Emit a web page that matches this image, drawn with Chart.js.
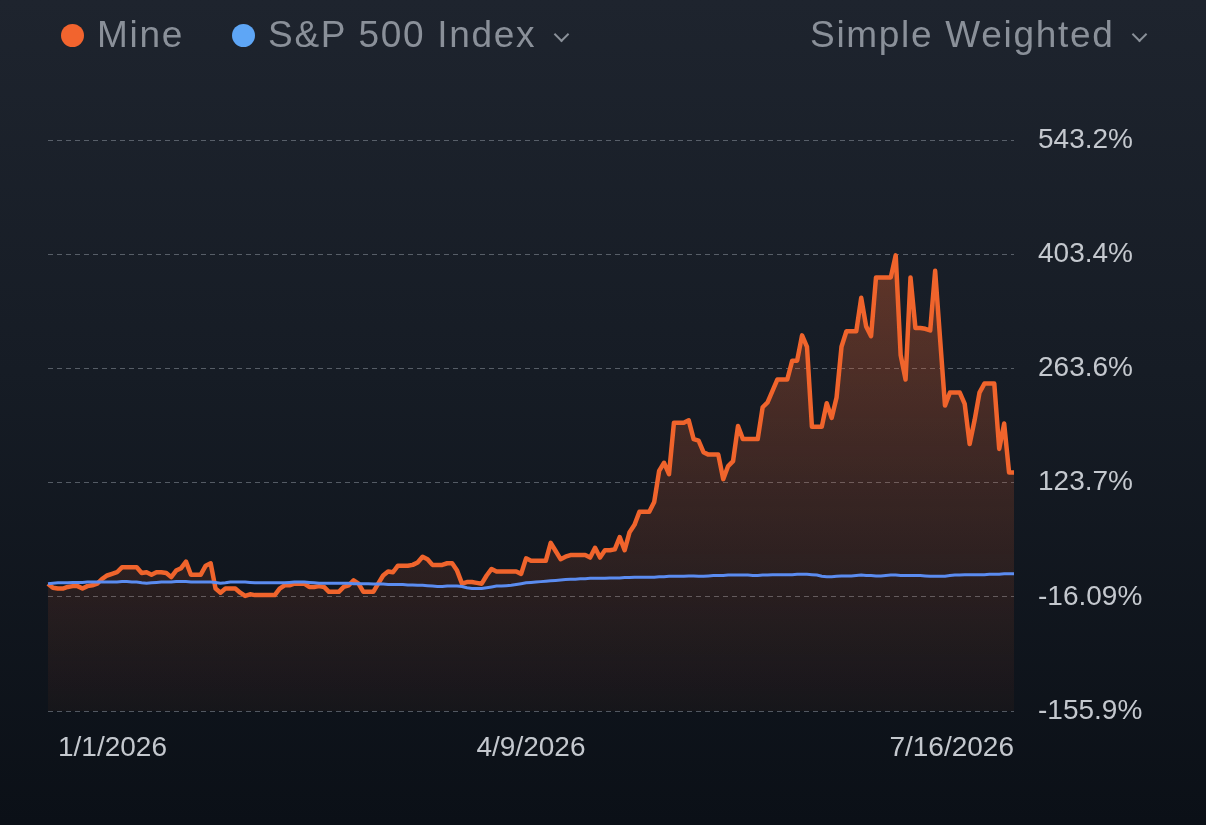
<!DOCTYPE html>
<html>
<head>
<meta charset="utf-8">
<script src="https://cdn.jsdelivr.net/npm/chart.js@4.4.1/dist/chart.umd.min.js"></script>
<style>
    html, body {
        margin: 0;
        padding: 0;
        width: 1206px;
        height: 825px;
        overflow: hidden;
        background: linear-gradient(to bottom, #1e242e 0%, #161c25 45%, #0b1017 100%);
        font-family: 'Liberation Sans', Arial, sans-serif;
    }
    #wrap { position: relative; width: 1206px; height: 825px; }
    canvas { position: absolute; left: 0; top: 0; }
    .head {
        position: absolute;
        top: 14px;
        height: 42px;
        line-height: 42px;
        font-size: 37px;
        letter-spacing: 1.7px;
        color: #8a9099;
        white-space: nowrap;
    }
    .dot {
        position: absolute;
        top: 24px;
        width: 23px;
        height: 23px;
        border-radius: 50%;
    }
    .chev {
        position: absolute;
        top: 29px;
        width: 9px;
        height: 9px;
        border-right: 2.5px solid #8a9099;
        border-bottom: 2.5px solid #8a9099;
        transform: rotate(45deg);
    }
</style>
</head>
<body>
<div id="wrap">
    <canvas id="perfChart" width="1206" height="825"></canvas>

    <span class="dot" style="left:61px; background:#f2642e;"></span>
    <span class="head" style="left:97px;">Mine</span>
    <span class="dot" style="left:232px; background:#5ea6f6;"></span>
    <span class="head" style="left:268px;">S&amp;P 500 Index</span>
    <span class="chev" style="left:556px;"></span>
    <span class="head" style="left:810px;">Simple Weighted</span>
    <span class="chev" style="left:1134px;"></span>
</div>

<script>
/* Data */
const startDate = new Date(2026, 0, 1)
const dayCount = 197

const xTickIndex = [0, 98, 196]
const xTickLabels = ['1/1/2026', '4/9/2026', '7/16/2026']

const yTicks = [-155.9, -16.09, 123.7, 263.6, 403.4, 543.2]
const yTickLabels = ['-155.9%', '-16.09%', '123.7%', '263.6%', '403.4%', '543.2%']

// Mine, % return
const mineValues = [
    0, -5, -6, -6, -4, -3, -3, -6, -3, -2,
    0, 6, 10, 12, 14, 20, 20, 20, 20, 13,
    14, 11, 14, 14, 13, 8, 16, 19, 27, 11,
    11, 11, 22, 25, -6, -11, -6, -6, -6, -11,
    -15, -13, -14, -14, -14, -14, -14, -6, -2, -2,
    0, 0, 0, -4, -4, -3, -4, -10, -10, -10,
    -4, -2, 4, 0, -10, -10, -10, 0, 10, 15,
    14, 22, 22, 22, 23, 26, 33, 30, 23, 23,
    23, 25, 25, 16, 0, 2, 2, 1, 0, 10,
    18, 15, 15, 15, 15, 15, 12, 31, 28, 28,
    28, 28, 50, 40, 30, 33, 35, 35, 35, 35,
    32, 44, 32, 41, 41, 42, 57, 41, 63, 72,
    88, 88, 88, 100, 138, 148, 134, 197, 197, 197,
    200, 177, 175, 161, 158, 158, 158, 128, 144, 150,
    193, 177, 177, 177, 177, 216, 222, 236, 250, 250,
    250, 273, 273, 304, 290, 192, 192, 192, 221, 203,
    228, 290, 309, 309, 309, 350, 315, 303, 375, 375,
    375, 375, 402, 280, 250, 375, 313, 313, 312, 310,
    383, 300, 218, 234, 234, 234, 220, 171, 200, 234,
    245, 245, 245, 165, 196, 136, 136
]

// S&P 500 Index, % return
const spxValues = [
    0, 0.5, 1, 1, 1, 1.5, 1.5, 1.5, 2, 2,
    2, 2, 2, 2, 2, 2.5, 2.5, 2, 2, 1,
    0.5, 1, 1.5, 2, 2, 2, 2.5, 2.5, 2.5, 2,
    2, 2, 2, 2, 1.5, 0.5, 1, 2, 2, 2,
    2, 1.5, 1, 1, 1, 1, 1, 1, 1, 1.5,
    2, 2, 2, 1.5, 1, 0.5, 0.5, 0.5, 0.5, 0.5,
    0.5, 0.5, 0, 0, 0, 0, -0.5, -0.5, -0.5, -1,
    -1, -1, -1, -1.5, -1.5, -2, -2, -2.5, -3, -3.5,
    -3.5, -3, -3, -3, -3.5, -5, -6, -6, -6, -5,
    -4, -3, -3, -2.5, -2, -1, 0, 1, 1.5, 2,
    2.5, 3, 3.5, 4, 4.5, 5, 5.5, 5.5, 6, 6,
    6.5, 6.5, 6.5, 6.5, 7, 7, 7, 7.5, 7.5, 8,
    8, 8, 8, 8, 8.5, 8.5, 9, 9, 9, 9,
    9.5, 9.5, 9, 9, 9.5, 10, 10, 10, 10.5, 10.5,
    10.5, 10.5, 10.5, 10, 10, 10.5, 10.5, 11, 11, 11,
    11, 11, 11.5, 11.5, 11.5, 11, 10.5, 9, 8.5, 8.5,
    9, 9.5, 9.5, 9.5, 10, 10.5, 10, 10, 9.5, 9.5,
    10, 10.5, 10.5, 10, 10, 10, 10, 10, 9.5, 9,
    9, 9, 9, 10, 10.5, 10.5, 11, 11, 11, 11,
    11, 11.5, 11.5, 11.5, 12, 12, 12
]

/* Day labels */
const dayLabels = []
for (let i = 0; i < dayCount; i++) {
    const d = new Date(startDate.getTime())
    d.setDate(d.getDate() + i)
    dayLabels.push((d.getMonth() + 1) + '/' + d.getDate() + '/' + d.getFullYear())
}

/* Orange fill gradient */
const mineFill = (context) => {
    const area = context.chart.chartArea
    if (!area) return 'rgba(240,100,45,0.2)'
    const g = context.chart.ctx.createLinearGradient(0, area.top + 110, 0, area.bottom)
    g.addColorStop(0, 'rgba(240,100,45,0.34)')
    g.addColorStop(0.55, 'rgba(240,100,45,0.16)')
    g.addColorStop(1, 'rgba(240,100,45,0.04)')
    return g
}

/* Bottom date labels: first left, middle centred, last right */
const dateLabelPlugin = {
    id: 'dateLabels',
    afterDraw(chart) {
        const ctx = chart.ctx
        const xScale = chart.scales.x
        const area = chart.chartArea
        ctx.save()
        ctx.font = '28px "Liberation Sans", Arial, sans-serif'
        ctx.fillStyle = '#c4c8ce'
        ctx.textBaseline = 'middle'
        xTickIndex.forEach((idx, n) => {
            let x = xScale.getPixelForValue(idx)
            if (n == 0) {
                ctx.textAlign = 'left'
                x = x + 10
            } else if (n == xTickIndex.length - 1) {
                ctx.textAlign = 'right'
            } else {
                ctx.textAlign = 'center'
            }
            ctx.fillText(xTickLabels[n], x, area.bottom + 37)
        })
        ctx.restore()
    }
}

const perfChart = new Chart(document.getElementById('perfChart'), {
    type: 'line',
    data: {
        labels: dayLabels,
        datasets: [
            {
                label: 'S&P 500 Index',
                data: spxValues,
                borderColor: '#5b8cf0',
                borderWidth: 3,
                pointRadius: 0,
                tension: 0,
                fill: false,
                order: 0
            },
            {
                label: 'Mine',
                data: mineValues,
                borderColor: '#f0642c',
                borderWidth: 4.5,
                borderJoinStyle: 'round',
                pointRadius: 0,
                tension: 0,
                fill: 'start',
                backgroundColor: mineFill,
                order: 1
            }
        ]
    },
    options: {
        responsive: false,
        animation: false,
        layout: {
            padding: { left: 48, top: 140, right: 0, bottom: 114 }
        },
        plugins: {
            legend: { display: false },
            tooltip: { enabled: false }
        },
        scales: {
            x: {
                display: false,
                offset: false
            },
            y: {
                position: 'right',
                min: -155.9,
                max: 543.2,
                afterBuildTicks: (scale) => {
                    scale.ticks = yTicks.map(v => ({ value: v }))
                },
                afterFit: (scale) => {
                    scale.width = 192
                },
                grid: {
                    drawTicks: false,
                    color: 'rgba(150,158,168,0.5)',
                    lineWidth: 1
                },
                border: {
                    display: false,
                    dash: [5, 4]
                },
                ticks: {
                    padding: 24,
                    color: '#c4c8ce',
                    font: { family: '"Liberation Sans", Arial, sans-serif', size: 28 },
                    callback: (value, index) => yTickLabels[index]
                }
            }
        }
    },
    plugins: [dateLabelPlugin]
})
</script>
</body>
</html>
